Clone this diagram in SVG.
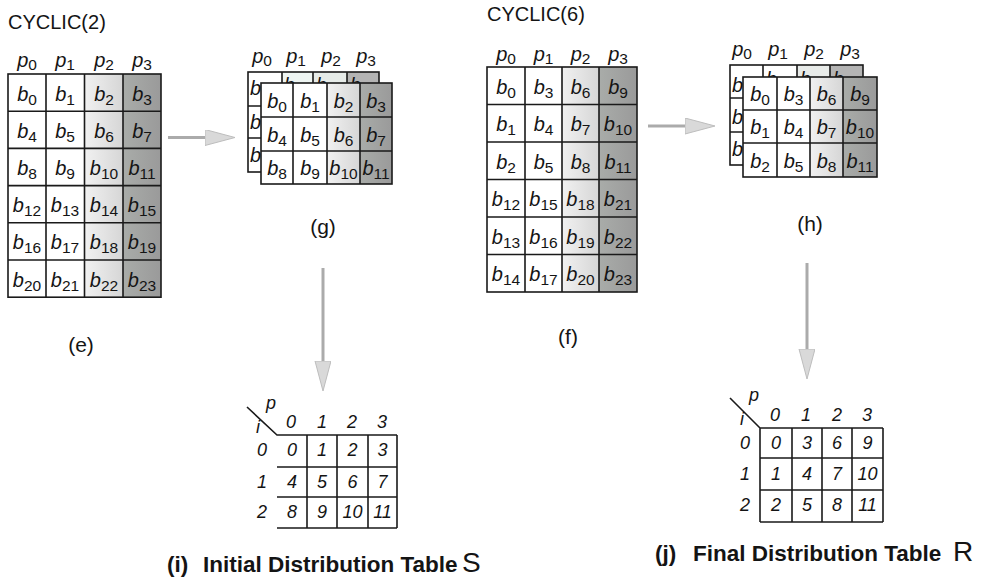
<svg xmlns="http://www.w3.org/2000/svg" width="991" height="580" viewBox="0 0 991 580">
<style>
.t{font-family:"Liberation Sans",Arial,Helvetica,sans-serif;fill:#141414}
.c{font-size:20px;font-style:italic;text-anchor:middle}
.bk{font-size:20px;font-style:italic;text-anchor:start}
.s{font-size:15.5px;font-style:normal}
.n{font-size:18px;font-style:italic;text-anchor:middle}
.lbl{font-size:21px;text-anchor:middle}
.title{font-size:20px}
.cap{font-size:22.5px;font-weight:bold}
.big{font-size:28px;font-weight:normal}
.ln{stroke:#1a1a1a;stroke-width:1.6;fill:none}
.wh{fill:#ffffff}
.shaft{stroke:#ababab;stroke-width:3;fill:none}
</style>
<defs>
<linearGradient id="lg" x1="0" y1="0" x2="1" y2="0">
<stop offset="0" stop-color="#f1f1f1"/><stop offset="1" stop-color="#d6d6d6"/>
</linearGradient>
<linearGradient id="dg" x1="0" y1="0" x2="1" y2="0">
<stop offset="0" stop-color="#a9aca9"/><stop offset="1" stop-color="#9a9a9a"/>
</linearGradient>
<marker id="ah" markerUnits="userSpaceOnUse" markerWidth="32" markerHeight="18" refX="0" refY="8" orient="auto">
<path d="M0,0 L30,8 L0,16 Z" fill="#d9d9d9" stroke="#bdbdbd" stroke-width="1"/>
</marker>
</defs>
<rect width="991" height="580" fill="#ffffff"/>

<text class="t title" x="8" y="29">CYCLIC(2)</text>
<text class="t title" x="487" y="21">CYCLIC(6)</text>

<g id="grid-e">
<rect x="8" y="74" width="153" height="223.2" class="wh"/>
<rect x="84.5" y="74" width="38.5" height="223.2" fill="url(#lg)"/>
<rect x="123" y="74" width="38" height="223.2" fill="url(#dg)"/>
<rect x="8" y="74" width="153" height="223.2" class="ln"/>
<path class="ln" d="M46,74V297.2M84.5,74V297.2M123,74V297.2M8,111.2H161M8,148.4H161M8,185.6H161M8,222.8H161M8,260H161"/>
<g class="t c">
<text x="27" y="67">p<tspan class="s" dy="3">0</tspan></text>
<text x="65" y="67">p<tspan class="s" dy="3">1</tspan></text>
<text x="104" y="67">p<tspan class="s" dy="3">2</tspan></text>
<text x="142" y="67">p<tspan class="s" dy="3">3</tspan></text>
<text x="27" y="101">b<tspan class="s" dy="4">0</tspan></text>
<text x="65" y="101">b<tspan class="s" dy="4">1</tspan></text>
<text x="104" y="101">b<tspan class="s" dy="4">2</tspan></text>
<text x="142" y="101">b<tspan class="s" dy="4">3</tspan></text>
<text x="27" y="138">b<tspan class="s" dy="4">4</tspan></text>
<text x="65" y="138">b<tspan class="s" dy="4">5</tspan></text>
<text x="104" y="138">b<tspan class="s" dy="4">6</tspan></text>
<text x="142" y="138">b<tspan class="s" dy="4">7</tspan></text>
<text x="27" y="175">b<tspan class="s" dy="4">8</tspan></text>
<text x="65" y="175">b<tspan class="s" dy="4">9</tspan></text>
<text x="104" y="175">b<tspan class="s" dy="4">10</tspan></text>
<text x="142" y="175">b<tspan class="s" dy="4">11</tspan></text>
<text x="27" y="212">b<tspan class="s" dy="4">12</tspan></text>
<text x="65" y="212">b<tspan class="s" dy="4">13</tspan></text>
<text x="104" y="212">b<tspan class="s" dy="4">14</tspan></text>
<text x="142" y="212">b<tspan class="s" dy="4">15</tspan></text>
<text x="27" y="249">b<tspan class="s" dy="4">16</tspan></text>
<text x="65" y="249">b<tspan class="s" dy="4">17</tspan></text>
<text x="104" y="249">b<tspan class="s" dy="4">18</tspan></text>
<text x="142" y="249">b<tspan class="s" dy="4">19</tspan></text>
<text x="27" y="287">b<tspan class="s" dy="4">20</tspan></text>
<text x="65" y="287">b<tspan class="s" dy="4">21</tspan></text>
<text x="104" y="287">b<tspan class="s" dy="4">22</tspan></text>
<text x="142" y="287">b<tspan class="s" dy="4">23</tspan></text>
</g>
<text class="t lbl" x="81" y="352">(e)</text>
</g>

<g id="grid-g">
<g class="t c">
<text x="262" y="63">p<tspan class="s" dy="3">0</tspan></text>
<text x="296" y="63">p<tspan class="s" dy="3">1</tspan></text>
<text x="331" y="63">p<tspan class="s" dy="3">2</tspan></text>
<text x="366" y="63">p<tspan class="s" dy="3">3</tspan></text>
</g>
<rect x="248" y="72" width="131" height="100" class="wh"/>
<rect x="282" y="72" width="31" height="100" fill="#eef5f2"/>
<rect x="313" y="72" width="34" height="100" fill="#e6ebe8"/>
<rect x="347" y="72" width="32" height="100" fill="#b4b4b4"/>
<rect x="248" y="72" width="131" height="100" class="ln"/>
<path class="ln" d="M282,72V172M313,72V172M347,72V172M248,106H379M248,138H379"/>
<g class="t bk">
<text x="250" y="95">b</text>
<text x="284" y="92">b</text>
<text x="316" y="92">b</text>
<text x="350" y="92">b</text>
<text x="250" y="129">b</text>
<text x="250" y="162">b</text>
</g>
<rect x="261" y="83" width="131" height="101" class="wh"/>
<rect x="327" y="83" width="33" height="101" fill="url(#lg)"/>
<rect x="360" y="83" width="32" height="101" fill="url(#dg)"/>
<rect x="261" y="83" width="131" height="101" class="ln"/>
<path class="ln" d="M293,83V184M327,83V184M360,83V184M261,117H392M261,151H392"/>
<g class="t c">
<text x="277" y="108">b<tspan class="s" dy="4">0</tspan></text>
<text x="310" y="108">b<tspan class="s" dy="4">1</tspan></text>
<text x="343.5" y="108">b<tspan class="s" dy="4">2</tspan></text>
<text x="376" y="108">b<tspan class="s" dy="4">3</tspan></text>
<text x="277" y="142">b<tspan class="s" dy="4">4</tspan></text>
<text x="310" y="142">b<tspan class="s" dy="4">5</tspan></text>
<text x="343.5" y="142">b<tspan class="s" dy="4">6</tspan></text>
<text x="376" y="142">b<tspan class="s" dy="4">7</tspan></text>
<text x="277" y="175">b<tspan class="s" dy="4">8</tspan></text>
<text x="310" y="175">b<tspan class="s" dy="4">9</tspan></text>
<text x="343.5" y="175">b<tspan class="s" dy="4">10</tspan></text>
<text x="376" y="175">b<tspan class="s" dy="4">11</tspan></text>
</g>
<text class="t lbl" x="323" y="234">(g)</text>
</g>

<g id="grid-f">
<rect x="487" y="67" width="150" height="225" class="wh"/>
<rect x="562" y="67" width="37" height="225" fill="url(#lg)"/>
<rect x="599" y="67" width="38" height="225" fill="url(#dg)"/>
<rect x="487" y="67" width="150" height="225" class="ln"/>
<path class="ln" d="M525,67V292M562,67V292M599,67V292M487,104.5H637M487,142H637M487,179.5H637M487,217H637M487,254.5H637"/>
<g class="t c">
<text x="506" y="61">p<tspan class="s" dy="3">0</tspan></text>
<text x="543.5" y="61">p<tspan class="s" dy="3">1</tspan></text>
<text x="580.5" y="61">p<tspan class="s" dy="3">2</tspan></text>
<text x="618" y="61">p<tspan class="s" dy="3">3</tspan></text>
<text x="506" y="94">b<tspan class="s" dy="4">0</tspan></text>
<text x="543.5" y="94">b<tspan class="s" dy="4">3</tspan></text>
<text x="580.5" y="94">b<tspan class="s" dy="4">6</tspan></text>
<text x="618" y="94">b<tspan class="s" dy="4">9</tspan></text>
<text x="506" y="131">b<tspan class="s" dy="4">1</tspan></text>
<text x="543.5" y="131">b<tspan class="s" dy="4">4</tspan></text>
<text x="580.5" y="131">b<tspan class="s" dy="4">7</tspan></text>
<text x="618" y="131">b<tspan class="s" dy="4">10</tspan></text>
<text x="506" y="169">b<tspan class="s" dy="4">2</tspan></text>
<text x="543.5" y="169">b<tspan class="s" dy="4">5</tspan></text>
<text x="580.5" y="169">b<tspan class="s" dy="4">8</tspan></text>
<text x="618" y="169">b<tspan class="s" dy="4">11</tspan></text>
<text x="506" y="206">b<tspan class="s" dy="4">12</tspan></text>
<text x="543.5" y="206">b<tspan class="s" dy="4">15</tspan></text>
<text x="580.5" y="206">b<tspan class="s" dy="4">18</tspan></text>
<text x="618" y="206">b<tspan class="s" dy="4">21</tspan></text>
<text x="506" y="244">b<tspan class="s" dy="4">13</tspan></text>
<text x="543.5" y="244">b<tspan class="s" dy="4">16</tspan></text>
<text x="580.5" y="244">b<tspan class="s" dy="4">19</tspan></text>
<text x="618" y="244">b<tspan class="s" dy="4">22</tspan></text>
<text x="506" y="281">b<tspan class="s" dy="4">14</tspan></text>
<text x="543.5" y="281">b<tspan class="s" dy="4">17</tspan></text>
<text x="580.5" y="281">b<tspan class="s" dy="4">20</tspan></text>
<text x="618" y="281">b<tspan class="s" dy="4">23</tspan></text>
</g>
<text class="t lbl" x="568" y="344">(f)</text>
</g>

<g id="grid-h">
<g class="t c">
<text x="742" y="56">p<tspan class="s" dy="3">0</tspan></text>
<text x="778" y="56">p<tspan class="s" dy="3">1</tspan></text>
<text x="814" y="56">p<tspan class="s" dy="3">2</tspan></text>
<text x="850" y="56">p<tspan class="s" dy="3">3</tspan></text>
</g>
<rect x="730" y="65" width="133" height="100" class="wh"/>
<rect x="797" y="65" width="33" height="100" fill="#e8ebe9"/>
<rect x="830" y="65" width="33" height="100" fill="#b4b4b4"/>
<rect x="730" y="65" width="133" height="100" class="ln"/>
<path class="ln" d="M763,65V165M797,65V165M830,65V165M730,98H863M730,132H863"/>
<g class="t bk">
<text x="732" y="92">b</text>
<text x="766" y="86">b</text>
<text x="800" y="86">b</text>
<text x="833" y="86">b</text>
<text x="732" y="124">b</text>
<text x="732" y="156">b</text>
</g>
<rect x="743" y="77" width="134" height="100" class="wh"/>
<rect x="810" y="77" width="33" height="100" fill="url(#lg)"/>
<rect x="843" y="77" width="34" height="100" fill="url(#dg)"/>
<rect x="743" y="77" width="134" height="100" class="ln"/>
<path class="ln" d="M777,77V177M810,77V177M843,77V177M743,110H877M743,143H877"/>
<g class="t c">
<text x="760" y="101">b<tspan class="s" dy="4">0</tspan></text>
<text x="793.5" y="101">b<tspan class="s" dy="4">3</tspan></text>
<text x="826.5" y="101">b<tspan class="s" dy="4">6</tspan></text>
<text x="860" y="101">b<tspan class="s" dy="4">9</tspan></text>
<text x="760" y="134">b<tspan class="s" dy="4">1</tspan></text>
<text x="793.5" y="134">b<tspan class="s" dy="4">4</tspan></text>
<text x="826.5" y="134">b<tspan class="s" dy="4">7</tspan></text>
<text x="860" y="134">b<tspan class="s" dy="4">10</tspan></text>
<text x="760" y="168">b<tspan class="s" dy="4">2</tspan></text>
<text x="793.5" y="168">b<tspan class="s" dy="4">5</tspan></text>
<text x="826.5" y="168">b<tspan class="s" dy="4">8</tspan></text>
<text x="860" y="168">b<tspan class="s" dy="4">11</tspan></text>
</g>
<text class="t lbl" x="810" y="231">(h)</text>
</g>

<g id="table-i">
<path class="ln" d="M247,407L277,435H397M277,467H397M277,497H397M277,528H397M307,435V528M337,435V528M368,435V528M397,435V528"/>
<g class="t n">
<text x="271" y="409">p</text>
<text x="258" y="433">i</text>
<text x="291" y="428">0</text>
<text x="322" y="428">1</text>
<text x="352" y="428">2</text>
<text x="382" y="428">3</text>
<text x="262" y="456">0</text>
<text x="262" y="488">1</text>
<text x="262" y="518">2</text>
<text x="292" y="456">0</text>
<text x="322" y="456">1</text>
<text x="352.5" y="456">2</text>
<text x="382.5" y="456">3</text>
<text x="292" y="488">4</text>
<text x="322" y="488">5</text>
<text x="352.5" y="488">6</text>
<text x="382.5" y="488">7</text>
<text x="292" y="518">8</text>
<text x="322" y="518">9</text>
<text x="352.5" y="518">10</text>
<text x="382.5" y="518">11</text>
</g>
<text class="t cap" x="167" y="572">(i)<tspan x="203">Initial Distribution Table</tspan><tspan class="big" x="462">S</tspan></text>
</g>

<g id="table-j">
<path class="ln" d="M730,398L760,428H883M760,458H883M760,490H883M760,522H883M760,428V522M792,428V522M822,428V522M852,428V522M883,428V522"/>
<g class="t n">
<text x="754" y="401">p</text>
<text x="742" y="425">i</text>
<text x="775" y="421">0</text>
<text x="806" y="421">1</text>
<text x="837" y="421">2</text>
<text x="867" y="421">3</text>
<text x="745" y="449">0</text>
<text x="745" y="480">1</text>
<text x="745" y="511">2</text>
<text x="776" y="449">0</text>
<text x="807" y="449">3</text>
<text x="837" y="449">6</text>
<text x="867.5" y="449">9</text>
<text x="776" y="480">1</text>
<text x="807" y="480">4</text>
<text x="837" y="480">7</text>
<text x="867.5" y="480">10</text>
<text x="776" y="511">2</text>
<text x="807" y="511">5</text>
<text x="837" y="511">8</text>
<text x="867.5" y="511">11</text>
</g>
<text class="t cap" x="655" y="561">(j)<tspan x="693">Final Distribution Table</tspan><tspan class="big" x="953">R</tspan></text>
</g>

<g id="connectors">
<path class="shaft" d="M168,137.5H205" marker-end="url(#ah)"/>
<path class="shaft" d="M648,126H685" marker-end="url(#ah)"/>
<path class="shaft" d="M323,268V361" marker-end="url(#ah)"/>
<path class="shaft" d="M807,263V349" marker-end="url(#ah)"/>
</g>
</svg>
